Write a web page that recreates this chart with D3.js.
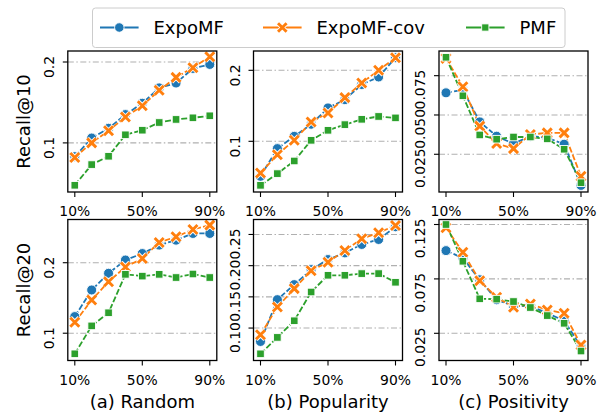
<!DOCTYPE html>
<html><head><meta charset="utf-8">
<script src="https://cdn.jsdelivr.net/npm/d3@7"></script>
<style>body{margin:0;background:#fff}svg{display:block;font-family:"DejaVu Sans",sans-serif}</style>
</head><body><div id="chart"></div>
<script>
const levels = [10, 20, 30, 40, 50, 60, 70, 80, 90];
const xTickValues = [10, 50, 90];
const methods = ["ExpoMF", "ExpoMF-cov", "PMF"];
const colors = ["#1f77b4", "#ff7f0e", "#2ca02c"];
const columnTitles = ["(a) Random", "(b) Popularity", "(c) Positivity"];
const rowLabels = ["Recall@10", "Recall@20"];

// Recall@10
const randomR10ExpoMF = [0.083, 0.106, 0.118, 0.135, 0.149, 0.168, 0.174, 0.192, 0.197];
const randomR10Cov    = [0.082, 0.100, 0.115, 0.132, 0.146, 0.165, 0.181, 0.193, 0.2066];
const randomR10PMF    = [0.0476, 0.0732, 0.0835, 0.110, 0.1157, 0.1252, 0.129, 0.131, 0.1335];
const popR10ExpoMF = [0.0507, 0.0897, 0.107, 0.124, 0.147, 0.1587, 0.180, 0.1906, 0.2178];
const popR10Cov    = [0.0554, 0.0812, 0.1014, 0.1272, 0.140, 0.1615, 0.1822, 0.200, 0.2178];
const popR10PMF    = [0.038, 0.0545, 0.0723, 0.1014, 0.1155, 0.1235, 0.131, 0.135, 0.133];
const posR10ExpoMF = [0.0641, 0.066, 0.0456, 0.0365, 0.0318, 0.0365, 0.0356, 0.0314, 0.0052];
const posR10Cov    = [0.086, 0.068, 0.0429, 0.0318, 0.0286, 0.0376, 0.0386, 0.0386, 0.011];
const posR10PMF    = [0.0867, 0.0622, 0.0373, 0.0346, 0.036, 0.036, 0.0348, 0.0282, 0.0069];
// Recall@20
const randomR20ExpoMF = [0.1236, 0.1613, 0.185, 0.2038, 0.213, 0.225, 0.232, 0.2415, 0.2415];
const randomR20Cov    = [0.1156, 0.147, 0.173, 0.194, 0.206, 0.2288, 0.2368, 0.247, 0.2533];
const randomR20PMF    = [0.0708, 0.1104, 0.129, 0.1835, 0.181, 0.1835, 0.179, 0.184, 0.179];
const popR20ExpoMF = [0.0785, 0.1455, 0.1696, 0.1937, 0.2098, 0.2205, 0.234, 0.242, 0.2623];
const popR20Cov    = [0.0892, 0.1337, 0.1632, 0.192, 0.2055, 0.2243, 0.243, 0.2527, 0.2645];
const popR20PMF    = [0.0587, 0.085, 0.1117, 0.1578, 0.1846, 0.1846, 0.1873, 0.1873, 0.1734];
const posR20ExpoMF = [0.101, 0.0942, 0.0742, 0.0558, 0.0502, 0.05, 0.0435, 0.0367, 0.0127];
const posR20Cov    = [0.122, 0.0995, 0.0733, 0.0582, 0.049, 0.052, 0.0465, 0.0435, 0.0142];
const posR20PMF    = [0.125, 0.0912, 0.0567, 0.0564, 0.0542, 0.0487, 0.0413, 0.0342, 0.0087];

// y tick values per panel
const yTicksRandomR10 = [0.1, 0.2];
const yTicksPopR10 = [0.1, 0.2];
const yTicksPosR10 = [0.025, 0.050, 0.075];
const yTicksRandomR20 = [0.1, 0.2];
const yTicksPopR20 = [0.10, 0.15, 0.20, 0.25];
const yTicksPosR20 = [0.025, 0.075, 0.125];

const panels = [
  {row:0, col:0, series:[randomR10ExpoMF, randomR10Cov, randomR10PMF], ticks:yTicksRandomR10, fmt:".1f", domain:[0.0393, 0.2136]},
  {row:0, col:1, series:[popR10ExpoMF, popR10Cov, popR10PMF], ticks:yTicksPopR10, fmt:".1f", domain:[0.0286, 0.2272]},
  {row:0, col:2, series:[posR10ExpoMF, posR10Cov, posR10PMF], ticks:yTicksPosR10, fmt:".3f", domain:[0.001, 0.0907]},
  {row:1, col:0, series:[randomR20ExpoMF, randomR20Cov, randomR20PMF], ticks:yTicksRandomR20, fmt:".1f", domain:[0.0613, 0.2613]},
  {row:1, col:1, series:[popR20ExpoMF, popR20Cov, popR20PMF], ticks:yTicksPopR20, fmt:".2f", domain:[0.048, 0.274]},
  {row:1, col:2, series:[posR20ExpoMF, posR20Cov, posR20PMF], ticks:yTicksPosR20, fmt:".3f", domain:[0.0, 0.1296]}
];

const W = 604, H = 415;
const colLeft = [67.8, 253.5, 439];
const panelW = 149;
const rowTop = [51, 219.5];
const panelH = 141;

const svg = d3.select("#chart").append("svg").attr("width", W).attr("height", H);

function drawMarker(g, k, color, size) {
  const s = size || 1;
  if (k === 0) {
    g.append("circle").attr("r", 5*s).attr("fill", color).attr("stroke", "#fff").attr("stroke-width", 0.9);
  } else if (k === 1) {
    const e = 4.5*s;
    const p = `M${-e},${-e}L${e},${e}M${-e},${e}L${e},${-e}`;
    g.append("path").attr("d", p).attr("stroke", "#fff").attr("stroke-width", 4.6).attr("fill", "none");
    g.append("path").attr("d", p).attr("stroke", color).attr("stroke-width", 2.9).attr("fill", "none");
  } else {
    const h = 3.8*s;
    g.append("rect").attr("x", -h).attr("y", -h).attr("width", 2*h).attr("height", 2*h)
      .attr("fill", color).attr("stroke", "#fff").attr("stroke-width", 0.9);
  }
}

panels.forEach(p => {
  const left = colLeft[p.col], top = rowTop[p.row];
  const x = d3.scaleLinear().domain([10, 90]).range([left + 7, left + panelW - 7]);
  const y = d3.scaleLinear().domain(p.domain).range([top + panelH, top]);
  const g = svg.append("g");
  const fmt = d3.format(p.fmt);

  // grid
  g.selectAll(".grid").data(p.ticks).enter().append("line")
    .attr("x1", left).attr("x2", left + panelW)
    .attr("y1", d => y(d)).attr("y2", d => y(d))
    .attr("stroke", "#b0b0b0").attr("stroke-width", 1.1)
    .attr("stroke-dasharray", "6,2.5,1.5,2.5");

  // y ticks
  g.selectAll(".yt").data(p.ticks).enter().append("line")
    .attr("x1", left - 5).attr("x2", left)
    .attr("y1", d => y(d)).attr("y2", d => y(d))
    .attr("stroke", "#000").attr("stroke-width", 1.1);
  g.selectAll(".ytl").data(p.ticks).enter().append("text")
    .attr("transform", d => `translate(${left - 14},${y(d) - 6}) rotate(-90)`)
    .attr("text-anchor", "end").attr("font-size", 13.9).attr("fill", "#000")
    .text(d => fmt(d));

  // x ticks
  g.selectAll(".xt").data(xTickValues).enter().append("line")
    .attr("x1", d => x(d)).attr("x2", d => x(d))
    .attr("y1", top + panelH).attr("y2", top + panelH + 5)
    .attr("stroke", "#000").attr("stroke-width", 1.1);
  g.selectAll(".xtl").data(xTickValues).enter().append("text")
    .attr("x", d => x(d)).attr("y", top + panelH + 24)
    .attr("text-anchor", "middle").attr("font-size", 13.9).attr("fill", "#000")
    .text(d => d + "%");

  // lines
  const line = d3.line().x((d, i) => x(levels[i])).y(d => y(d));
  p.series.forEach((s, k) => {
    g.append("path").datum(s).attr("d", line)
      .attr("fill", "none").attr("stroke", colors[k]).attr("stroke-width", 1.8)
      .attr("stroke-dasharray", "6,2.2");
  });
  p.series.forEach((s, k) => {
    s.forEach((v, i) => {
      const mg = g.append("g").attr("transform", `translate(${x(levels[i])},${y(v)})`);
      drawMarker(mg, k, colors[k]);
    });
  });

  // frame
  g.append("rect").attr("x", left).attr("y", top).attr("width", panelW).attr("height", panelH)
    .attr("fill", "none").attr("stroke", "#000").attr("stroke-width", 1.3);

  if (p.col === 0) {
    svg.append("text")
      .attr("transform", `translate(30,${top + panelH / 2}) rotate(-90)`)
      .attr("text-anchor", "middle").attr("font-size", 18).attr("fill", "#000")
      .text(rowLabels[p.row]);
  }
  if (p.row === 1) {
    svg.append("text").attr("x", left + panelW / 2).attr("y", 408)
      .attr("text-anchor", "middle").attr("font-size", 18).attr("fill", "#000")
      .text(columnTitles[p.col]);
  }
});

// legend
const lg = svg.append("g");
lg.append("rect").attr("x", 92.5).attr("y", 8).attr("width", 472.5).attr("height", 39.5)
  .attr("rx", 3).attr("fill", "#fff").attr("fill-opacity", 0.8).attr("stroke", "#cccccc").attr("stroke-width", 1);
const legendX = [100, 263, 466];
methods.forEach((m, k) => {
  const lx = legendX[k];
  lg.append("line").attr("x1", lx).attr("x2", lx + 38.6).attr("y1", 27.5).attr("y2", 27.5)
    .attr("stroke", colors[k]).attr("stroke-width", 1.8);
  drawMarker(lg.append("g").attr("transform", `translate(${lx + 19.3},27.5)`), k, colors[k], 0.95);
  lg.append("text").attr("x", lx + 53.5).attr("y", 34).attr("font-size", 18).attr("fill", "#000").text(m);
});
</script>
</body></html>
